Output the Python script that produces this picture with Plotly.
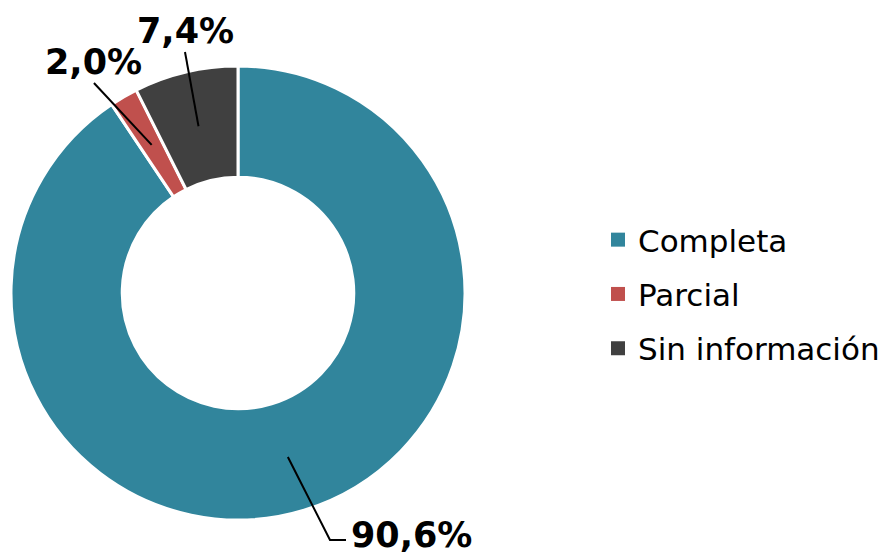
import math
import plotly.graph_objects as go

categories = ["Completa", "Parcial", "Sin información"]
values = [90.6, 2.0, 7.4]
value_labels = ["90,6%", "2,0%", "7,4%"]
colors = ["#31859C", "#C0504D", "#404040"]

W, H = 889, 556
OFF = 8  # page body margin shifts the figure by this much
cx, cy, R = 238 - OFF, 293 - OFF, 227
hole = 0.51
r_mid = R * (1 + hole) / 2

# where each label sits (pixels, reference coords) and the leader line from label to slice
label_pos = {
    "Completa": dict(text=(411, 535), path=[(346, 540), (330, 540)]),
    "Parcial": dict(text=(93, 62), path=[(94, 83)]),
    "Sin información": dict(text=(185, 31), path=[(185, 52)]),
}


def px(x, y):
    return x / W, 1 - y / H


def ref(x, y):
    return px(x - OFF, y - OFF)


fig = go.Figure()
fig.add_trace(go.Pie(
    labels=categories, values=values, sort=False, direction="clockwise",
    rotation=0, hole=hole, textinfo="none", hoverinfo="label+percent",
    marker=dict(colors=colors, line=dict(color="white", width=3)),
    domain=dict(x=[(cx - R) / W, (cx + R) / W], y=[1 - (cy + R) / H, 1 - (cy - R) / H]),
    showlegend=False,
))

# legend entries
for cat, col in zip(categories, colors):
    fig.add_trace(go.Scatter(
        x=[None], y=[None], mode="markers", name=cat, legendgroup=cat,
        marker=dict(symbol="square", size=14, color=col),
    ))

total = sum(values)
cum = 0
shapes, annotations = [], []
for cat, v, lab in zip(categories, values, value_labels):
    ang = math.radians((cum + v / 2) / total * 360)
    cum += v
    tip = px(cx + r_mid * math.sin(ang), cy - r_mid * math.cos(ang))
    pos = label_pos[cat]
    pts = [ref(*p) for p in pos["path"]] + [tip]
    d = "M " + " L ".join("%.4f,%.4f" % p for p in pts)
    shapes.append(dict(type="path", path=d, xref="paper", yref="paper",
                       line=dict(color="black", width=2)))
    tx, ty = ref(*pos["text"])
    annotations.append(dict(x=tx, y=ty, xref="paper", yref="paper", text="<b>%s</b>" % lab,
                            showarrow=False, xanchor="center", yanchor="middle",
                            font=dict(size=35, color="black")))

lx, ly = ref(598, 294)
fig.update_layout(
    width=W, height=H, margin=dict(l=0, r=0, t=0, b=0),
    paper_bgcolor="white", plot_bgcolor="white",
    font=dict(family="DejaVu Sans", color="black"),
    xaxis=dict(visible=False), yaxis=dict(visible=False),
    shapes=shapes, annotations=annotations,
    legend=dict(x=lx, y=ly, xanchor="left", yanchor="middle",
                font=dict(size=31), tracegroupgap=11, traceorder="grouped",
                bgcolor="rgba(0,0,0,0)"),
)

fig.write_html("out.html")
